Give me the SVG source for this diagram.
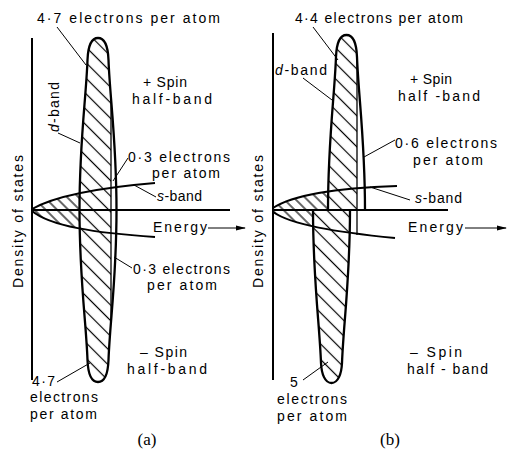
<svg xmlns="http://www.w3.org/2000/svg" width="509" height="452" viewBox="0 0 509 452">
<style>
.t{font-family:"Liberation Sans",Arial,sans-serif;font-size:14px;fill:#000}
.cap{font-family:"Liberation Serif","Times New Roman",serif;font-size:17px;fill:#000}
.ax{stroke:#000;stroke-width:2;fill:none}
.ol{stroke:#000;stroke-width:2.3;fill:none}
.sb{stroke:#000;stroke-width:2;fill:none}
.ef{stroke:#000;stroke-width:1.3;fill:none}
.ld{stroke:#000;stroke-width:1;fill:none}
.wf{fill:#fff;stroke:none}
.it{font-style:italic}
</style>
<defs>
<pattern id="hd" patternUnits="userSpaceOnUse" width="20" height="11" patternTransform="rotate(45)"><line x1="0" y1="5.5" x2="20" y2="5.5" stroke="#000" stroke-width="1.2"/></pattern>
<pattern id="hs" patternUnits="userSpaceOnUse" width="20" height="8" patternTransform="rotate(45)"><line x1="0" y1="4" x2="20" y2="4" stroke="#000" stroke-width="1.2"/></pattern>
<marker id="arr" markerUnits="userSpaceOnUse" markerWidth="10" markerHeight="6" refX="9" refY="3" orient="auto"><path d="M0,0.6 L10,3 L0,5.4 Z" fill="#000"/></marker>
<clipPath id="cAshape"><path d="M98,38 C104.5,38 108,47 108.5,60 C110,100 116.5,140 116.5,210 C116.5,280 110,320 108.5,360 C108,373 104.5,382 98,382 C91.5,382 88,373 87.5,360 C86,320 79.5,280 79.5,210 C79.5,140 86,100 87.5,60 C88,47 91.5,38 98,38 Z"/></clipPath>
<clipPath id="cAleft"><rect x="0" y="0" width="111" height="452"/></clipPath>
<clipPath id="cAs"><path d="M32,209 C55,196 95,188 155,183 L155,237 C95,233 50,226 32,211 Z"/></clipPath>
<clipPath id="cBup"><path d="M328,210 C328,140 334.5,97 336,57 C336.5,44 340,35 346.5,35 C353,35 356.5,44 357,57 C358.5,97 365,140 365,210 Z"/></clipPath>
<clipPath id="cBlo"><path d="M313,210 C313,280 319.5,323 321,363 C321.5,374 325,383 331.5,383 C338,383 341.5,374 342,363 C343.5,323 350,280 350,210 Z"/></clipPath>
<clipPath id="cBleft"><rect x="0" y="0" width="357" height="452"/></clipPath>
<clipPath id="cBs"><path d="M273,208 C293,195 335,188 397,186 L395,238 C335,232 292,225 273,212 Z"/></clipPath>
<clipPath id="cBslim"><path d="M250,150 H357 V210 H350 V260 H250 Z"/></clipPath>
</defs>
<rect x="0" y="0" width="509" height="452" fill="#fff"/>

<g id="panel-a">
  <g id="a-hatch">
    <g clip-path="url(#cAleft)"><rect x="0" y="0" width="509" height="452" fill="url(#hs)" clip-path="url(#cAs)"/></g>
    <path class="wf" d="M98,38 C104.5,38 108,47 108.5,60 C110,100 116.5,140 116.5,210 C116.5,280 110,320 108.5,360 C108,373 104.5,382 98,382 C91.5,382 88,373 87.5,360 C86,320 79.5,280 79.5,210 C79.5,140 86,100 87.5,60 C88,47 91.5,38 98,38 Z"/>
    <g clip-path="url(#cAleft)"><rect x="0" y="0" width="509" height="452" fill="url(#hd)" clip-path="url(#cAshape)"/></g>
  </g>
  <g id="a-dband">
    <path class="ol" d="M98,38 C104.5,38 108,47 108.5,60 C110,100 116.5,140 116.5,210 C116.5,280 110,320 108.5,360 C108,373 104.5,382 98,382 C91.5,382 88,373 87.5,360 C86,320 79.5,280 79.5,210 C79.5,140 86,100 87.5,60 C88,47 91.5,38 98,38 Z"/>
    <line class="ef" x1="111" y1="97" x2="111" y2="323"/>
  </g>
  <g id="a-sband">
    <path class="sb" d="M32,209 C55,196 95,188 155,183"/>
    <path class="sb" d="M32,211 C50,226 95,233 155,237"/>
  </g>
  <g id="a-axes">
    <line class="ax" x1="32" y1="38" x2="32" y2="380"/>
    <line class="ax" x1="32" y1="210" x2="230" y2="210"/>
    <line class="ld" x1="208" y1="228" x2="245" y2="228" marker-end="url(#arr)"/>
  </g>
  <g id="a-labels">
    <text class="t" font-size="15" x="37" y="23" textLength="183" lengthAdjust="spacing">4·7 electrons per atom</text>
    <text class="t" font-size="15" transform="translate(59,132) rotate(-90)" x="0" y="0" textLength="50" lengthAdjust="spacing"><tspan class="it">d</tspan>-band</text>
    <text class="t" x="143" y="87" textLength="44" lengthAdjust="spacing">+ Spin</text>
    <text class="t" x="132" y="104" textLength="80" lengthAdjust="spacing">half-band</text>
    <text class="t" x="128" y="162" textLength="102" lengthAdjust="spacing">0·3 electrons</text>
    <text class="t" x="152" y="178" textLength="68" lengthAdjust="spacing">per atom</text>
    <text class="t" x="157" y="201" textLength="45" lengthAdjust="spacing"><tspan class="it">s</tspan>-band</text>
    <text class="t" x="153" y="232" textLength="54" lengthAdjust="spacing">Energy</text>
    <text class="t" x="133" y="274" textLength="97" lengthAdjust="spacing">0·3 electrons</text>
    <text class="t" x="147" y="290" textLength="70" lengthAdjust="spacing">per atom</text>
    <text class="t" x="140" y="357" textLength="47" lengthAdjust="spacing">– Spin</text>
    <text class="t" x="127" y="374" textLength="80" lengthAdjust="spacing">half-band</text>
    <text class="t" x="32" y="386" textLength="23" lengthAdjust="spacing">4·7</text>
    <text class="t" x="30" y="402" textLength="68" lengthAdjust="spacing">electrons</text>
    <text class="t" x="30" y="419" textLength="67" lengthAdjust="spacing">per atom</text>
    <text class="t" transform="translate(23,288) rotate(-90)" x="0" y="0" textLength="133" lengthAdjust="spacing">Density of states</text>
    <text class="cap" x="147" y="445" text-anchor="middle">(a)</text>
  </g>
</g>

<g id="panel-b">
  <g id="b-hatch">
    <g clip-path="url(#cBslim)"><rect x="0" y="0" width="509" height="452" fill="url(#hs)" clip-path="url(#cBs)"/></g>
    <path class="wf" d="M328,210 C328,140 334.5,97 336,57 C336.5,44 340,35 346.5,35 C353,35 356.5,44 357,57 C358.5,97 365,140 365,210 Z"/>
    <path class="wf" d="M313,210 C313,280 319.5,323 321,363 C321.5,374 325,383 331.5,383 C338,383 341.5,374 342,363 C343.5,323 350,280 350,210 Z"/>
    <g clip-path="url(#cBleft)"><rect x="0" y="0" width="509" height="452" fill="url(#hd)" clip-path="url(#cBup)"/></g>
    <rect x="0" y="0" width="509" height="452" fill="url(#hd)" clip-path="url(#cBlo)"/>
  </g>
  <g id="b-dband">
    <path class="ol" d="M328,210 C328,140 334.5,97 336,57 C336.5,44 340,35 346.5,35 C353,35 356.5,44 357,57 C358.5,97 365,140 365,210"/>
    <path class="ol" d="M313,210 C313,280 319.5,323 321,363 C321.5,374 325,383 331.5,383 C338,383 341.5,374 342,363 C343.5,323 350,280 350,210"/>
    <line class="ef" x1="357" y1="60" x2="357" y2="235"/>
  </g>
  <g id="b-sband">
    <path class="sb" d="M273,208 C293,195 335,188 397,186"/>
    <path class="sb" d="M273,212 C292,225 335,232 395,238"/>
  </g>
  <g id="b-axes">
    <line class="ax" x1="273" y1="33" x2="273" y2="380"/>
    <line class="ax" x1="273" y1="210" x2="448" y2="210"/>
    <line class="ld" x1="465" y1="228" x2="506" y2="228" marker-end="url(#arr)"/>
  </g>
  <g id="b-labels">
    <text class="t" font-size="15" x="295" y="23" textLength="168" lengthAdjust="spacing">4·4 electrons per atom</text>
    <text class="t" font-size="15" x="275" y="75" textLength="52" lengthAdjust="spacing"><tspan class="it">d</tspan>-band</text>
    <text class="t" x="410" y="84" textLength="42" lengthAdjust="spacing">+ Spin</text>
    <text class="t" x="398" y="101" textLength="82" lengthAdjust="spacing">half -band</text>
    <text class="t" x="395" y="148" textLength="102" lengthAdjust="spacing">0·6 electrons</text>
    <text class="t" x="413" y="165" textLength="70" lengthAdjust="spacing">per atom</text>
    <text class="t" x="415" y="203" textLength="47" lengthAdjust="spacing"><tspan class="it">s</tspan>-band</text>
    <text class="t" x="408" y="232" textLength="55" lengthAdjust="spacing">Energy</text>
    <text class="t" x="410" y="357" textLength="52" lengthAdjust="spacing">– Spin</text>
    <text class="t" x="407" y="374" textLength="81" lengthAdjust="spacing">half - band</text>
    <text class="t" x="290" y="387" textLength="10" lengthAdjust="spacing">5</text>
    <text class="t" x="277" y="404" textLength="70" lengthAdjust="spacing">electrons</text>
    <text class="t" x="277" y="421" textLength="70" lengthAdjust="spacing">per atom</text>
    <text class="t" transform="translate(263,288) rotate(-90)" x="0" y="0" textLength="133" lengthAdjust="spacing">Density of states</text>
    <text class="cap" x="390" y="445" text-anchor="middle">(b)</text>
  </g>
</g>

<g id="leaders">
  <line class="ld" x1="57" y1="27" x2="86" y2="65"/>
  <line class="ld" x1="58" y1="133" x2="80" y2="143"/>
  <line class="ld" x1="128" y1="158" x2="113" y2="181"/>
  <line class="ld" x1="156" y1="197" x2="134" y2="185"/>
  <line class="ld" x1="132" y1="268" x2="114" y2="257"/>
  <line class="ld" x1="57" y1="382" x2="90" y2="363"/>
  <line class="ld" x1="313" y1="27" x2="338" y2="60"/>
  <line class="ld" x1="303" y1="78" x2="332" y2="100"/>
  <line class="ld" x1="395" y1="140" x2="364" y2="157"/>
  <line class="ld" x1="410" y1="200" x2="370" y2="187"/>
  <line class="ld" x1="303" y1="380" x2="328" y2="362"/>
</g>
</svg>
